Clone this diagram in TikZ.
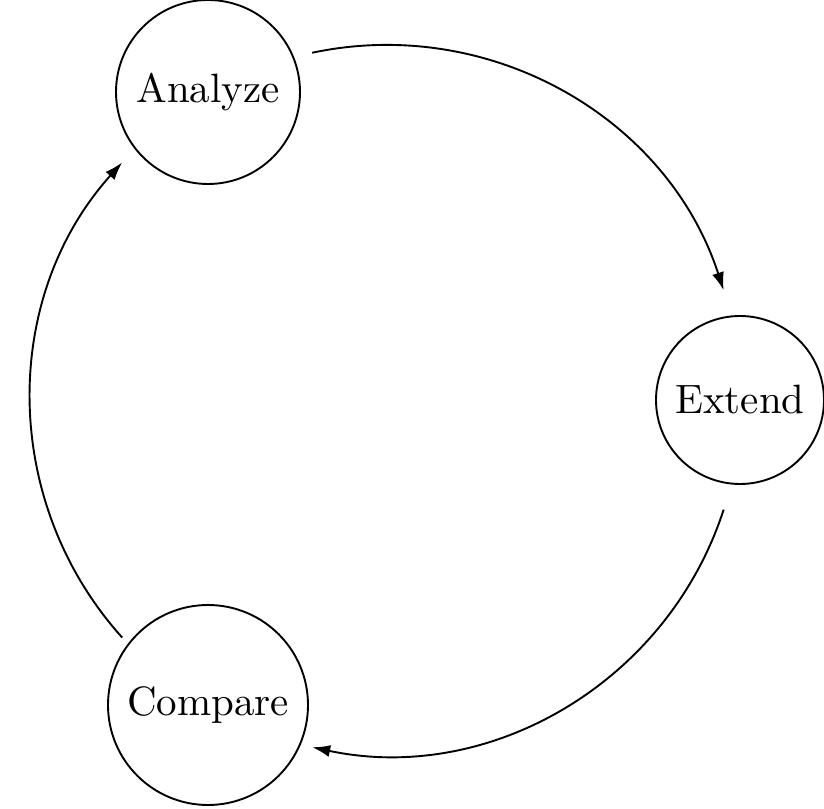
\documentclass[tikz,border=0pt]{standalone}
\usepackage{graphicx}
\usetikzlibrary{arrows.meta,calc}
\newcommand\stagelabel[1]{\scalebox{2.05}{#1}}
\begin{document}
\begin{tikzpicture}[x=0.5pt,y=0.5pt,
  stage/.style={draw,circle,line width=0.95pt,inner sep=0pt,font=\fontsize{10}{12}\selectfont},
  arr/.style={line width=0.95pt,-{Latex[length=9pt,width=6pt]}}]
\useasboundingbox (0,0) rectangle (824,808);
\coordinate (C) at (386,408);
\node[stage,minimum size=92pt] (an) at (208,716) {\stagelabel{Analyze}};
\node[stage,minimum size=84pt] (ex) at (740,408) {\stagelabel{Extend}};
\node[stage,minimum size=100pt] (co) at (208,103) {\stagelabel{Compare}};
\coordinate (s1) at ($(C)+(102:177.5pt)$);
\coordinate (s2) at ($(C)+(-18:177.5pt)$);
\coordinate (s3) at ($(C)+(222:177.5pt)$);
\draw[arr] (s1) arc[start angle=102,end angle=18,radius=177.5pt];
\draw[arr] (s2) arc[start angle=-18,end angle=-102,radius=177.5pt];
\draw[arr] (s3) arc[start angle=222,end angle=138,radius=177.5pt];
\end{tikzpicture}
\end{document}
